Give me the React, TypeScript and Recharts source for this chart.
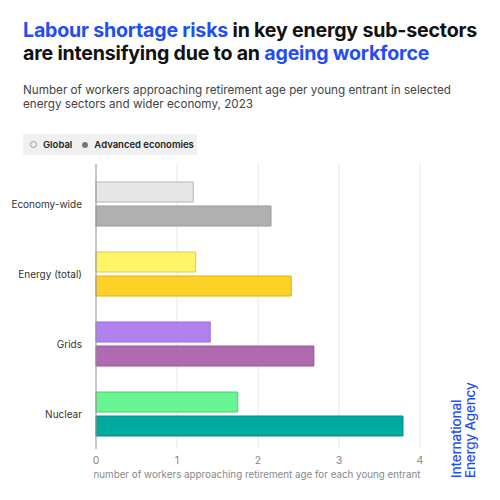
import { BarChart, Bar, XAxis, YAxis, CartesianGrid, Cell } from 'recharts'

// Values (2023)
const categories = ['Economy-wide', 'Energy (total)', 'Grids', 'Nuclear']
const globalValues = [1.2, 1.23, 1.41, 1.75]
const advancedValues = [2.16, 2.41, 2.69, 3.79]
const xTicks = [0, 1, 2, 3, 4]

// Per-sector colours: light for Global, strong for Advanced economies
const globalFill = ['#e6e6e6', '#fff566', '#b181ef', '#6af594']
const globalStroke = ['#b5b5b5', '#d9cb52', '#9a6ad6', '#52c977']
const advancedFill = ['#b0b0b0', '#fdd226', '#b06ab0', '#00aa9e']
const advancedStroke = ['#999999', '#dcb40f', '#97559a', '#008f84']

const FONT = 'Inter, "Noto Sans", sans-serif'
const BLUE = '#1f4ef5'

const data = categories.map((name, i) => ({
  name,
  global: globalValues[i],
  advanced: advancedValues[i],
}))

// single-line category label, right-aligned against the axis
function CategoryTick(props: any) {
  const { x, y, payload } = props
  return (
    <text x={x} y={y} dy={4} textAnchor="end" fill="#333" fontSize={10} fontFamily={FONT}>
      {payload.value}
    </text>
  )
}

export default function App() {
  return (
    <div
      style={{
        position: 'absolute',
        left: 0,
        top: 0,
        width: 500,
        height: 500,
        background: '#fff',
        fontFamily: FONT,
        overflow: 'hidden',
      }}
    >
      {/* Title */}
      <div
        style={{
          position: 'absolute',
          left: 23,
          top: 19,
          fontSize: 19.6,
          fontWeight: 700,
          lineHeight: '23px',
          color: '#111',
          letterSpacing: -0.2,
          whiteSpace: 'nowrap',
        }}
      >
        <span style={{ color: BLUE }}>Labour shortage risks</span> in key energy sub-sectors
        <br />
        are intensifying due to an <span style={{ color: BLUE }}>ageing workforce</span>
      </div>

      {/* Subtitle */}
      <div
        style={{
          position: 'absolute',
          left: 23,
          top: 83,
          fontSize: 11.7,
          lineHeight: '14px',
          color: '#444',
          whiteSpace: 'nowrap',
        }}
      >
        Number of workers approaching retirement age per young entrant in selected
        <br />
        energy sectors and wider economy, 2023
      </div>

      {/* Legend */}
      <div
        style={{
          position: 'absolute',
          left: 23,
          top: 134,
          width: 174,
          height: 21,
          background: '#f0f0f0',
          display: 'flex',
          alignItems: 'center',
          fontSize: 9.5,
          fontWeight: 600,
          color: '#222',
          whiteSpace: 'nowrap',
        }}
      >
        <span
          style={{
            width: 5,
            height: 5,
            borderRadius: '50%',
            border: '1px solid #999',
            marginLeft: 7,
            marginRight: 6,
          }}
        />
        <span>Global</span>
        <span
          style={{
            width: 6,
            height: 6,
            borderRadius: '50%',
            background: '#777',
            marginLeft: 10,
            marginRight: 6,
          }}
        />
        <span>Advanced economies</span>
      </div>

      <div style={{ position: 'absolute', left: 0, top: 0 }}>
        <BarChart
          width={500}
          height={500}
          data={data}
          layout="vertical"
          margin={{ top: 164, right: 80, bottom: 22, left: 20 }}
          barGap={4}
          barSize={20}
        >
          <CartesianGrid horizontal={false} stroke="#e8e8e8" />
          <XAxis
            type="number"
            domain={[0, 4]}
            ticks={xTicks}
            axisLine={false}
            tickLine={false}
            height={29}
            tick={{ fill: '#888', fontSize: 10.5, fontFamily: FONT }}
            tickMargin={2}
            label={{
              value: 'number of workers approaching retirement age for each young entrant',
              position: 'insideBottom',
              offset: 0,
              fill: '#888',
              fontSize: 9.8,
              fontFamily: FONT,
              dx: -1,
            }}
          />
          <YAxis
            type="category"
            dataKey="name"
            width={76}
            padding={{ top: 5, bottom: 0 }}
            axisLine={{ stroke: '#999' }}
            tickLine={false}
            tickMargin={8}
            tick={<CategoryTick />}
          />
          <Bar dataKey="global" isAnimationActive={false} strokeWidth={1}>
            {categories.map((c, i) => (
              <Cell key={c} fill={globalFill[i]} stroke={globalStroke[i]} />
            ))}
          </Bar>
          <Bar dataKey="advanced" isAnimationActive={false} strokeWidth={1}>
            {categories.map((c, i) => (
              <Cell key={c} fill={advancedFill[i]} stroke={advancedStroke[i]} />
            ))}
          </Bar>
        </BarChart>
      </div>

      {/* IEA wordmark */}
      <div
        style={{
          position: 'absolute',
          left: 450,
          top: 478,
          transform: 'rotate(-90deg)',
          transformOrigin: '0 0',
          fontSize: 13.5,
          fontWeight: 500,
          lineHeight: '13.5px',
          color: BLUE,
          whiteSpace: 'nowrap',
          letterSpacing: -0.2,
        }}
      >
        International
        <br />
        Energy Agency
      </div>
    </div>
  )
}
